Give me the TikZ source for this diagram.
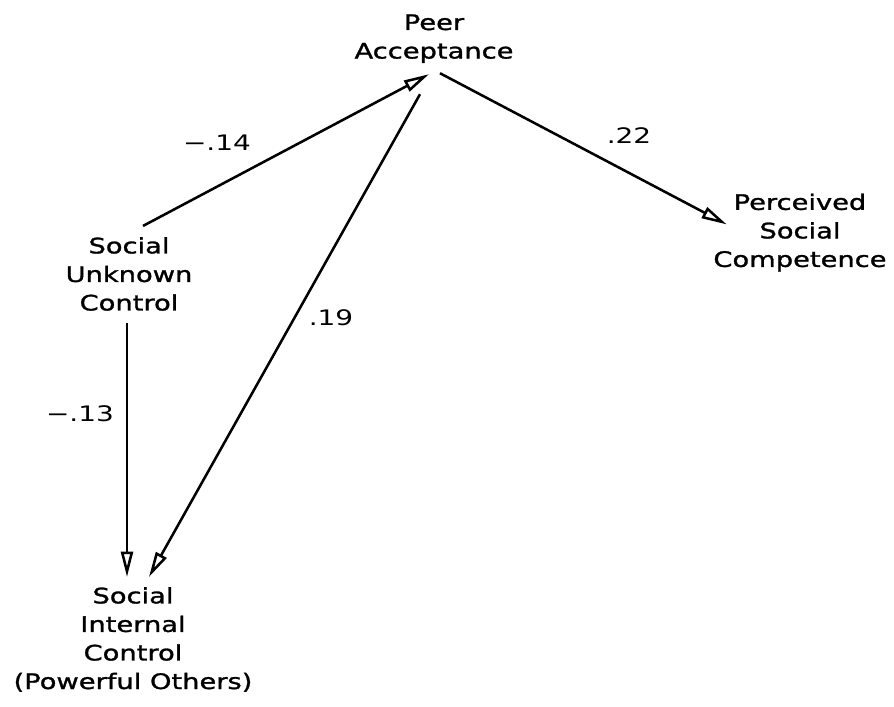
\documentclass[tikz,border=0pt]{standalone}
\usepackage{fontspec}
\newfontfamily\pathfont{DejaVu Sans}[FakeStretch=1.31]
\newfontfamily\pathboldfont{DejaVu Sans}[FakeStretch=1.28, FakeBold=1.3]
\usetikzlibrary{arrows.meta,calc}

\begin{document}
\begin{tikzpicture}[x=0.75pt, y=-0.75pt, >={Triangle[open, length=19pt, width=9pt]},
    var/.style={align=center, inner sep=0pt, font=\pathboldfont\fontsize{16}{21.4}\selectfont},
    coef/.style={inner sep=0pt, font=\pathfont\fontsize{16}{21.4}\selectfont},
    link/.style={->, line width=1.9pt}]
    \useasboundingbox (0,0) rectangle (894,707);

    \node[var] (pa)  at (434,38.7)  {Peer\\Acceptance};
    \node[var] (su)  at (129,274)   {Social\\Unknown\\Control};
    \node[var] (psc) at (800,232.5) {Perceived\\Social\\Competence};
    \node[var] (sic) at (133,639.5) {Social\\Internal\\Control\\(Powerful Others)};

    \draw[link] ($(su.north)+(14,-11)$) -- ($(pa.south)+(-5,11)$);
    \draw[link] ($(pa.south)+(6,10)$) -- ($(psc.north west)+(13.5,31)$);
    \draw[link] ($(su.south)+(-2,12)$) -- ($(sic.north)+(-6,-10)$);
    \draw[link] ($(pa.south)+(-14,31)$) -- ($(sic.north)+(16,-10)$);

    \node[coef] (c1) at (217,143)   {−.14};
    \node[coef] (c2) at (629,136)   {.22};
    \node[coef] (c3) at (80,414)    {−.13};
    \node[coef] (c4) at (331,317.5) {.19};
\end{tikzpicture}
\end{document}
